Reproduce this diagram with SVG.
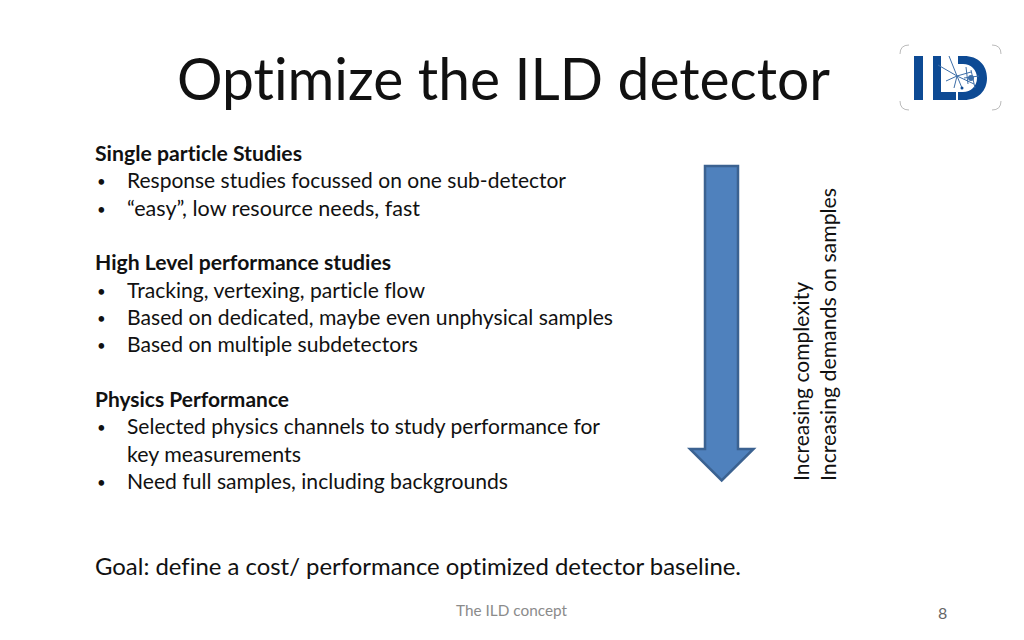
<svg xmlns="http://www.w3.org/2000/svg" width="1024" height="640" viewBox="0 0 1024 640">
<style>
text{font-family:Lato,"Open Sans","Liberation Sans",sans-serif;fill:#111;font-variant-ligatures:none}
.b{font-size:21px}
.u{font-size:15px}
.h{font-size:21px;font-weight:700}
.r{font-size:21px}
.f{font-size:16px;fill:#8b8b8b}
.d{fill:none;stroke:#3d6ea8;stroke-width:1}
</style>
<rect width="1024" height="640" fill="#fff"/>
<g id="title"><text x="177" y="100" font-size="58" textLength="653" lengthAdjust="spacingAndGlyphs">Optimize the ILD detector</text></g>
<g id="logo">
<path d="M900 54Q900 45 909 45M992 45Q1001 45 1001 54M900 101Q900 110 909 110M992 110Q1001 110 1001 101" fill="none" stroke="#bbb" stroke-width="1"/>
<rect x="914" y="56" width="9" height="44" fill="#0d4a94"/>
<path d="M933 56h8v36h15v8h-23z" fill="#0d4a94"/>
<path d="M958 56h6c14 0 23 9 23 22s-9 22-23 22h-6v-8h5c8 0 14-6 14-14s-6-14-14-14h-5z" fill="#0d4a94"/>
<path class="d" d="M938 65L957 76L971 72M949 56L957 76L954 88M957 76L974 84M957 76L946 81M957 76L962 88M966 67L968 84M971 70L975 88M964 78L979 76"/>
<circle cx="962" cy="88" r="1.5" fill="#0d4a94"/>
<circle cx="971" cy="78" r="3" fill="#3d6ea8"/>
</g>
<g id="text-block">
<text class="h" x="95" y="161" textLength="207" lengthAdjust="spacingAndGlyphs">Single particle Studies</text>
<text class="u" x="97" y="187">•</text><text class="b" x="127" y="188" textLength="439" lengthAdjust="spacingAndGlyphs">Response studies focussed on one sub-detector</text>
<text class="u" x="97" y="215">•</text><text class="b" x="127" y="216" textLength="293" lengthAdjust="spacingAndGlyphs">“easy”, low resource needs, fast</text>
<text class="h" x="95" y="270" textLength="296" lengthAdjust="spacingAndGlyphs">High Level performance studies</text>
<text class="u" x="97" y="297">•</text><text class="b" x="127" y="298" textLength="298" lengthAdjust="spacingAndGlyphs">Tracking, vertexing, particle flow</text>
<text class="u" x="97" y="324">•</text><text class="b" x="127" y="325" textLength="486" lengthAdjust="spacingAndGlyphs">Based on dedicated, maybe even unphysical samples</text>
<text class="u" x="97" y="351">•</text><text class="b" x="127" y="352" textLength="291" lengthAdjust="spacingAndGlyphs">Based on multiple subdetectors</text>
<text class="h" x="95" y="407" textLength="194" lengthAdjust="spacingAndGlyphs">Physics Performance</text>
<text class="u" x="97" y="433">•</text><text class="b" x="127" y="434" textLength="473" lengthAdjust="spacingAndGlyphs">Selected physics channels to study performance for</text>
<text class="b" x="127" y="462" textLength="174" lengthAdjust="spacingAndGlyphs">key measurements</text>
<text class="u" x="97" y="488">•</text><text class="b" x="127" y="489" textLength="381" lengthAdjust="spacingAndGlyphs">Need full samples, including backgrounds</text>
</g>
<g id="goal"><text x="95" y="575" font-size="24" textLength="646" lengthAdjust="spacingAndGlyphs">Goal: define a cost/ performance optimized detector baseline.</text></g>
<g id="arrow"><path d="M705 166H738V449H753.500L721.700 480.500L690 449H705Z" fill="#4f81bd" stroke="#3b6291" stroke-width="2.5" stroke-linejoin="miter"/></g>
<g id="side-labels">
<text class="r" transform="translate(809 481) rotate(-90)" textLength="199" lengthAdjust="spacingAndGlyphs">Increasing complexity</text>
<text class="r" transform="translate(836 481) rotate(-90)" textLength="293" lengthAdjust="spacingAndGlyphs">Increasing demands on samples</text>
</g>
<g id="footer">
<text class="f" x="456" y="616" textLength="111" lengthAdjust="spacingAndGlyphs">The ILD concept</text>
<text class="f" x="938" y="619" style="fill:#666">8</text>
</g>
</svg>
